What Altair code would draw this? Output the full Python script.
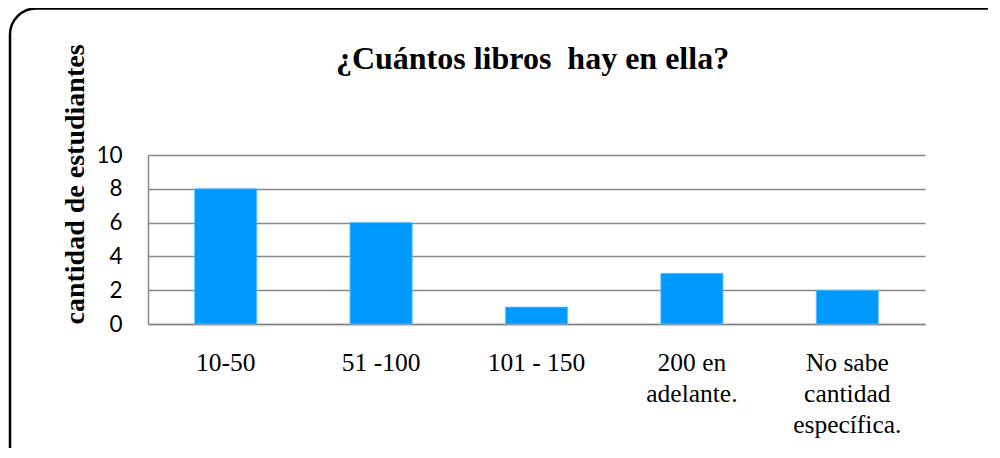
import altair as alt
import pandas as pd

categories = ["10-50", "51 -100", "101 - 150", "200 en\nadelante.", "No sabe\ncantidad\nespecífica."]
values = [8, 6, 1, 3, 2]
y_ticks = [0, 2, 4, 6, 8, 10]
title_text = "¿Cuántos libros\u00a0 hay en ella?"
y_title = "cantidad de estudiantes"

df = pd.DataFrame({"cat": categories, "val": values})

W, H = 777, 169
PAD_L, PAD_T, PAD_R, PAD_B = 140, 147, 63, 124

bars = alt.Chart(df).mark_bar(color="#0099FF", stroke="#66C2FF", strokeWidth=0.8).encode(
    x=alt.X(
        "cat:N",
        sort=categories,
        scale=alt.Scale(paddingInner=0.6, paddingOuter=0.3),
        axis=alt.Axis(
            title=None,
            labelAngle=0,
            labelFont="Liberation Serif",
            labelFontSize=25.5,
            labelColor="black",
            labelPadding=26,
            labelLineHeight=31,
            labelExpr="split(datum.label, '\\n')",
            ticks=False,
            domainColor="#888888",
            domainWidth=1.5,
            grid=False,
        ),
    ),
    y=alt.Y(
        "val:Q",
        scale=alt.Scale(domain=[0, 10]),
        axis=alt.Axis(
            values=y_ticks,
            title=y_title,
            titleFont="Liberation Serif",
            titleFontSize=28,
            titleFontWeight="bold",
            titleColor="black",
            titleAngle=270,
            titleAlign="center",
            titleBaseline="alphabetic",
            titleX=-65,
            titleY=29,
            labelFont="Lato",
            labelFontSize=22.5,
            labelColor="black",
            labelPadding=26,
            ticks=False,
            domainColor="#888888",
            domainWidth=1.5,
            grid=True,
            gridColor="#888888",
            gridWidth=1.5,
        ),
    ),
)

frame_df = pd.DataFrame({"k": [0]})
frame = alt.Chart(frame_df).mark_rect(
    filled=False, stroke="black", strokeWidth=2.5, cornerRadius=26
).encode(
    x=alt.value(2 - PAD_L),
    x2=alt.value(W + PAD_R + 60),
    y=alt.value(0.5 - PAD_T),
    y2=alt.value(H + PAD_B + 30),
)

chart = alt.layer(bars, frame).properties(
    width=W,
    height=H,
    autosize=alt.AutoSizeParams(type="none"),
    padding={"left": PAD_L, "top": PAD_T, "right": PAD_R, "bottom": PAD_B},
    title=alt.TitleParams(
        text=title_text,
        font="Liberation Serif",
        fontSize=32,
        fontWeight="bold",
        color="black",
        anchor="middle",
        baseline="alphabetic",
        offset=-94,
        dx=-4,
    ),
).configure_view(stroke=None)

chart.save("out.html", embed_options={"renderer": "svg", "actions": False})
